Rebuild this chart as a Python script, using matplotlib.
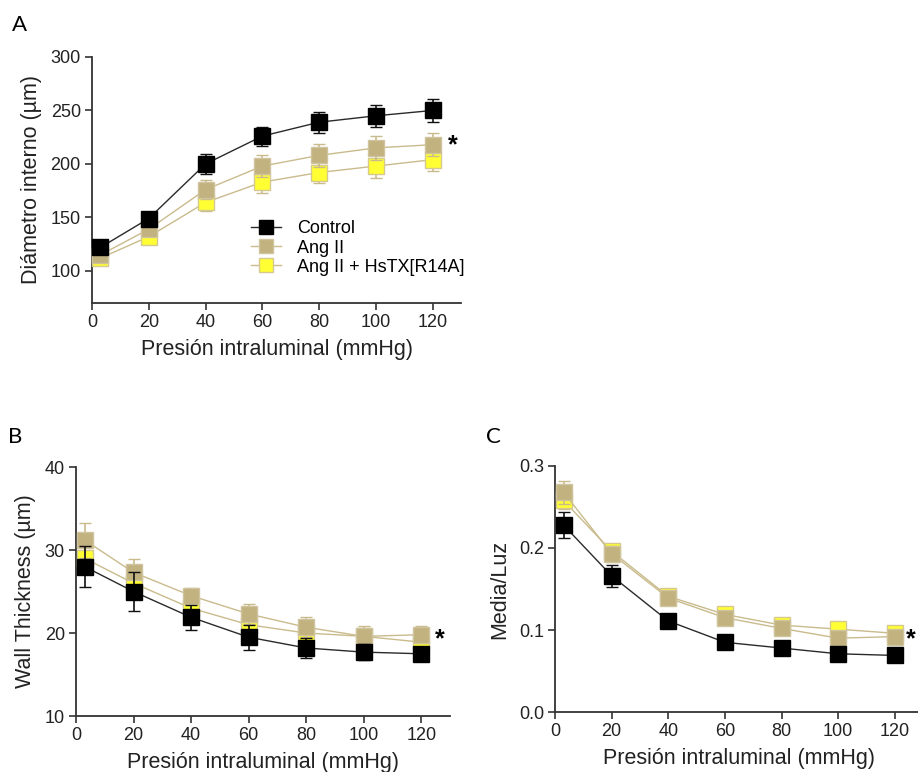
import matplotlib
matplotlib.use("Agg")
import matplotlib.pyplot as plt
from matplotlib.lines import Line2D

plt.rcParams['font.family'] = ['Liberation Sans', 'DejaVu Sans']

pressure = [3, 20, 40, 60, 80, 100, 120]
labels = ['Control', 'Ang II', 'Ang II + HsTX[R14A]']

# A - internal diameter (um)
diam_ctrl = [122, 149, 200, 226, 239, 245, 250]
diam_ctrl_err = [5, 5, 9, 9, 10, 10, 11]
diam_ang = [115, 139, 176, 198, 208, 215, 218]
diam_ang_err = [5, 5, 9, 10, 11, 11, 11]
diam_hs = [112, 132, 164, 183, 192, 198, 204]
diam_hs_err = [4, 5, 8, 10, 10, 11, 11]

# B - wall thickness (um)
wall_ctrl = [28.0, 25.0, 21.9, 19.5, 18.2, 17.7, 17.5]
wall_ctrl_err = [2.5, 2.3, 1.5, 1.5, 1.2, 1.0, 0.7]
wall_ang = [31.2, 27.3, 24.5, 22.3, 20.7, 19.6, 19.8]
wall_ang_err = [2.1, 1.6, 0.9, 1.2, 1.2, 1.3, 1.0]
wall_hs = [29.0, 26.0, 23.0, 21.0, 20.0, 19.6, 18.9]
wall_hs_err = [1.5, 1.5, 1.0, 1.0, 0.8, 0.8, 0.8]

# C - media/lumen
ml_ctrl = [0.228, 0.166, 0.111, 0.085, 0.078, 0.071, 0.069]
ml_ctrl_err = [0.016, 0.013, 0.008, 0.004, 0.004, 0.003, 0.003]
ml_ang = [0.268, 0.193, 0.139, 0.115, 0.102, 0.090, 0.092]
ml_ang_err = [0.014, 0.010, 0.008, 0.006, 0.005, 0.005, 0.005]
ml_hs = [0.258, 0.196, 0.141, 0.119, 0.106, 0.101, 0.096]
ml_hs_err = [0.010, 0.008, 0.006, 0.005, 0.004, 0.004, 0.004]

tan = '#c2b280'
tan_line = '#c9bb8c'
styles = [
    dict(color='#2a2a2a', mfc='black', mec='black', ecolor='#111111', z=5),
    dict(color=tan_line, mfc=tan, mec='#cfc49e', ecolor=tan_line, z=4),
    dict(color=tan_line, mfc='#ffff33', mec='#d6c98f', ecolor=tan_line, z=3),
]

fig = plt.figure(figsize=(9.18, 7.72), dpi=100)
axA = fig.add_axes([0.1002, 0.6075, 0.402, 0.3187])
axB = fig.add_axes([0.0828, 0.0725, 0.4074, 0.3225])
axC = fig.add_axes([0.6046, 0.0777, 0.401, 0.3187])


def draw(ax, series):
    for (y, err), st in zip(series, styles):
        ax.errorbar(pressure, y, yerr=err, color=st['color'], lw=1.0,
                    marker='s', ms=11, mfc=st['mfc'], mec=st['mec'], mew=1.0,
                    ecolor=st['ecolor'], elinewidth=1.2, capsize=4.5, capthick=1.2,
                    zorder=st['z'], clip_on=False)
    ax.set_xlim(0, 130)
    ax.set_xticks([0, 20, 40, 60, 80, 100, 120])
    ax.spines['top'].set_visible(False)
    ax.spines['right'].set_visible(False)
    for s in ['left', 'bottom']:
        ax.spines[s].set_linewidth(1.3)
        ax.spines[s].set_color('#333333')
    ax.tick_params(direction='out', length=5, width=1.2, color='#333333',
                   labelsize=13, labelcolor='#222222', pad=3)
    ax.set_xlabel('Presión intraluminal (mmHg)', fontsize=15.5, color='#222222', labelpad=6)


draw(axA, [(diam_ctrl, diam_ctrl_err), (diam_ang, diam_ang_err), (diam_hs, diam_hs_err)])
axA.set_ylim(70, 300)
axA.set_yticks([100, 150, 200, 250, 300])
axA.set_ylabel('Diámetro interno (µm)', fontsize=15.5, color='#222222', labelpad=6)
axA.text(127, 217, '*', fontsize=18, fontweight='bold', ha='center', va='center')
handles = [Line2D([], [], color=st['color'], lw=1.0, marker='s', ms=10,
                  mfc=st['mfc'], mec=st['mec']) for st in styles]
axA.legend(handles, labels, loc='upper left', bbox_to_anchor=(0.41, 0.365), frameon=False,
           fontsize=13, handlelength=1.7, handletextpad=0.9, labelspacing=0.12,
           borderaxespad=0)

draw(axB, [(wall_ctrl, wall_ctrl_err), (wall_ang, wall_ang_err), (wall_hs, wall_hs_err)])
axB.set_ylim(10, 40)
axB.set_yticks([10, 20, 30, 40])
axB.set_ylabel('Wall Thickness (µm)', fontsize=15.5, color='#222222', labelpad=6)
axB.text(126.5, 19.3, '*', fontsize=18, fontweight='bold', ha='center', va='center')

draw(axC, [(ml_ctrl, ml_ctrl_err), (ml_ang, ml_ang_err), (ml_hs, ml_hs_err)])
axC.set_ylim(0, 0.3)
axC.set_yticks([0.0, 0.1, 0.2, 0.3])
axC.set_yticklabels(['0.0', '0.1', '0.2', '0.3'])
axC.set_ylabel('Media/Luz', fontsize=15.5, color='#222222', labelpad=6)
axC.text(125.6, 0.089, '*', fontsize=18, fontweight='bold', ha='center', va='center',
         clip_on=False)

for lab, x, y in [('A', 20, 25), ('B', 15, 437), ('C', 493, 437)]:
    fig.text(x / 918, 1 - y / 772, lab, fontsize=16, family=['Lato', 'DejaVu Sans'],
             ha='center', va='center')

fig.savefig('out.png', dpi=100)
